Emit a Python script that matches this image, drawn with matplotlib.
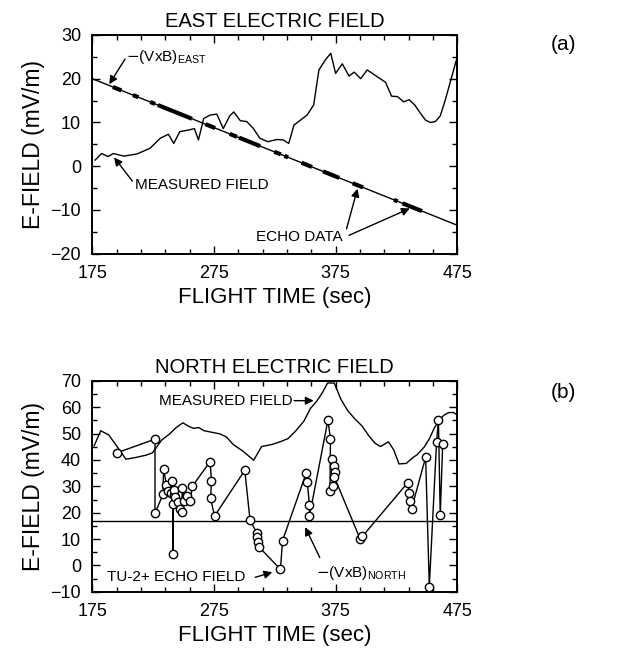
import numpy as np
import matplotlib
matplotlib.use('Agg')
import matplotlib.pyplot as plt

plt.rcParams['font.family'] = ['Liberation Sans', 'DejaVu Sans']

# ---- panel (a): east field ----
east_t = [177.4, 182.7, 188, 192.4, 201, 211.8, 222.5, 231, 237.6, 242, 247, 254.8, 259, 262.3,
          266.6, 272, 277.4, 282.7, 288, 291.3, 296.7, 302, 307.5, 312.7, 319.3, 326.8, 332, 336.5,
          340.8, 346, 351.6, 357, 361.3, 366.6, 371, 375, 380.5, 386, 390.3, 395.6, 401, 410, 416,
          421, 425.8, 431, 435.5, 440, 445, 449, 453, 457, 461, 465, 470, 475]
east_v = [1.4, 2.9, 2.2, 2.9, 2.3, 2.8, 4.1, 6.4, 7.3, 5.2, 7.9, 8.3, 8.6, 6.0,
          10.9, 11.7, 11.9, 8.6, 11.5, 12.4, 10.4, 10.2, 8.6, 6.4, 5.6, 6.1, 6.0, 5.2,
          9.4, 10.5, 11.7, 14.0, 22.0, 24.3, 25.8, 21.2, 23.4, 20.6, 21.5, 20.0, 22.0, 20.3, 19.2,
          16.0, 15.9, 14.7, 15.2, 14.0, 12.0, 10.5, 10.0, 10.2, 11.5, 15.0, 20.0, 25.0]
vxb_east_t = [175, 475]
vxb_east_v = [20, -13.5]
# time intervals with echo data (thick parts of the VxB line)
echo_start = [192, 208.5, 222.7, 229, 268, 288, 295.6, 324.7, 333, 347, 364.7, 389, 423, 430]
echo_end = [199, 213, 226.6, 257, 276, 294, 313, 330, 336, 355.6, 378, 397.6, 426, 446]

# ---- panel (b): north field ----
north_t = [176.6, 182, 188.6, 195, 202.7, 210.3, 219, 224.5, 232, 238.6, 244, 249.5, 253.8, 258.2,
           262.5, 266.9, 273.4, 280, 285.4, 290.8, 299, 307.7, 314.2, 322.9, 329.4, 335.9, 342.4,
           348.9, 354.3, 359.8, 364.1, 368.4, 373.9, 379.3, 384.7, 390.2, 396.7, 402.1, 407.5,
           411.9, 418.4, 422.7, 427.1, 433.1, 438.5, 442, 448, 452, 456, 460, 464, 468, 472, 475]
north_v = [45.4, 51.1, 49.5, 45.4, 40.3, 40.9, 41.8, 42.7, 47.5, 49.9, 52.3, 54.1, 52.9, 52.0,
           52.3, 51.1, 50.5, 49.9, 48.7, 45.9, 43.3, 39.9, 45.1, 45.9, 46.9, 48.1, 51.1,
           54.7, 59.5, 62.5, 65.5, 69.2, 69.2, 63.1, 58.9, 55.9, 52.9, 49.3, 46.3,
           45.1, 46.9, 43.9, 38.5, 38.7, 40.9, 42, 45, 48, 52, 55, 57, 58, 58, 57]
vxb_north_t = [175, 475]
vxb_north_v = [16.8, 16.8]
echo_t = [195.1, 226.6, 226.6, 233.2, 233.6, 236.0, 237.5, 239.7, 240.4, 241.2, 241.2, 241.9,
          242.5, 243.4, 245.5, 246.9, 248.4, 249.1, 250.6, 252.8, 255.6, 257.2, 271.9, 273.0,
          272.3, 275.5, 300.4, 304.7, 310.2, 310.6, 311.3, 312.3, 329.7, 331.4, 350.9, 351.8,
          353.5, 353.5, 368.7, 370.8, 370.4, 372.6, 371.9, 374.1, 374.7, 374.1, 395.0, 397.0,
          434.1, 435.5, 436.3, 437.4, 449, 452, 458, 459.5, 461, 463]
echo_v = [42.7, 47.9, 19.8, 27.0, 36.7, 30.6, 28.2, 27.3, 32.2, 23.2, 4.4, 26.7,
          28.8, 25.8, 24.0, 21.4, 20.2, 29.4, 24.6, 26.4, 24.4, 30.0, 39.4, 31.9,
          25.5, 18.7, 36.1, 17.1, 12.4, 10.8, 9.0, 6.9, -1.5, 9.4, 35.1, 31.5,
          22.8, 18.6, 55.1, 48.1, 28.2, 30.0, 40.3, 37.9, 35.5, 33.4, 10.2, 11.0,
          31.3, 27.6, 24.3, 21.5, 41, -8, 47, 55, 19, 46]

xticks = [175, 275, 375, 475]

fig = plt.figure(figsize=(6.23, 6.59), dpi=100)
ax1 = fig.add_axes([0.148, 0.615, 0.586, 0.332])
ax2 = fig.add_axes([0.148, 0.102, 0.586, 0.320])

arrow = dict(arrowstyle='-|>', color='k', lw=1.0, mutation_scale=12, shrinkA=0, shrinkB=0)
tfs = 11

def style(ax, ylo, yhi):
    ax.set_xlim(175, 475)
    ax.set_ylim(ylo, yhi)
    ax.set_xticks(xticks)
    ax.set_xticks(np.arange(175, 476, 20), minor=True)
    ax.set_yticks(np.arange(ylo, yhi + 1, 10))
    ax.set_yticks(np.arange(ylo, yhi + 1, 5), minor=True)
    ax.tick_params(which='both', direction='in', top=True, right=True, labelsize=13, width=1)
    ax.tick_params(which='major', length=6, pad=8)
    ax.tick_params(which='minor', length=3.5)
    for s in ax.spines.values():
        s.set_linewidth(1.4)
    ax.set_xlabel('FLIGHT TIME (sec)', fontsize=16, labelpad=4)
    ax.set_ylabel('E-FIELD (mV/m)', fontsize=16.5, labelpad=4)

# panel (a)
style(ax1, -20, 30)
ax1.plot(vxb_east_t, vxb_east_v, color='k', lw=1.0)
for a, b in zip(echo_start, echo_end):
    seg = np.array([a, b])
    ax1.plot(seg, np.interp(seg, vxb_east_t, vxb_east_v), color='k', lw=3.0, solid_capstyle='butt')
ax1.plot(east_t, east_v, color='k', lw=1.0)
ax1.set_title('EAST ELECTRIC FIELD', fontsize=14.5, pad=6)
ax1.annotate('', xy=(189, np.interp(189, vxb_east_t, vxb_east_v) + 0.3), xytext=(202, 24.5), arrowprops=arrow)
ax1.text(203, 25, r'$-$(VxB)$_{\mathregular{EAST}}$', fontsize=tfs, va='center')
ax1.annotate('', xy=(193, 2.0), xytext=(208, -3.4), arrowprops=arrow)
ax1.text(210, -4.4, 'MEASURED FIELD', fontsize=tfs, va='center')
ax1.text(310, -16.2, 'ECHO DATA', fontsize=tfs, va='center')
ax1.annotate('', xy=(393, np.interp(393, vxb_east_t, vxb_east_v) - 0.8), xytext=(384, -14.3), arrowprops=arrow)
ax1.annotate('', xy=(436, np.interp(436, vxb_east_t, vxb_east_v) - 0.5), xytext=(386, -15.8), arrowprops=arrow)
fig.text(0.904, 0.932, '(a)', fontsize=15, ha='center', va='center')

# panel (b)
style(ax2, -10, 70)
ax2.plot(vxb_north_t, vxb_north_v, color='k', lw=1.0)
ax2.plot(north_t, north_v, color='k', lw=1.0)
ax2.plot(echo_t, echo_v, color='k', lw=1.0, marker='o', ms=6, mfc='white', mec='k', mew=1.0)
ax2.set_title('NORTH ELECTRIC FIELD', fontsize=14.5, pad=6)
ax2.text(230, 62.5, 'MEASURED FIELD', fontsize=tfs, va='center')
ax2.annotate('', xy=(357, 62.5), xytext=(341, 62.5), arrowprops=arrow)
ax2.annotate('', xy=(350, 14.5), xytext=(362, 3.0), arrowprops=arrow)
ax2.text(359, -2.8, r'$-$(VxB)$_{\mathregular{NORTH}}$', fontsize=tfs, va='center')
ax2.text(187.5, -4.5, 'TU-2+ ECHO FIELD', fontsize=tfs, va='center')
ax2.annotate('', xy=(323, -2.6), xytext=(309, -4.5), arrowprops=arrow)
fig.text(0.904, 0.405, '(b)', fontsize=15, ha='center', va='center')

plt.savefig('out.png', dpi=100)
